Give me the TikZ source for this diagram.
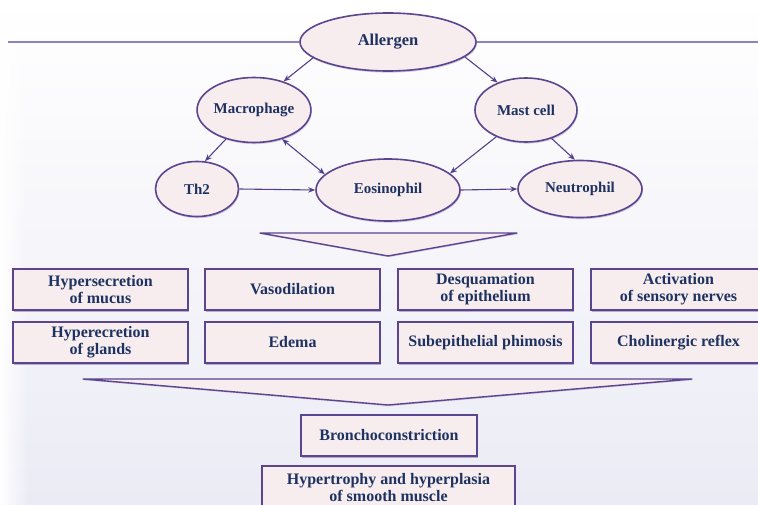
\documentclass[tikz,border=0pt]{standalone}
\usepackage{fontspec}
\setmainfont{Liberation Serif}
\usetikzlibrary{shapes.geometric,arrows.meta,shadows,fadings}
\definecolor{bord}{HTML}{5B4590}
\definecolor{fillc}{HTML}{F7EDEE}
\definecolor{txt}{HTML}{1E3262}
\definecolor{arr}{HTML}{55408A}
\definecolor{bgb}{HTML}{EBEBF5}
\definecolor{hline}{HTML}{8C84BC}
\begin{document}
\begin{tikzpicture}[x=1pt,y=-1pt,
  lbl/.style={text=txt, font=\fontsize{16}{17}\selectfont\bfseries, align=center},
  cell/.style={lbl, font=\fontsize{15}{16}\selectfont\bfseries, ellipse, draw=bord, line width=1.6pt, fill=fillc, inner sep=0pt,
    drop shadow={shadow xshift=0.8pt, shadow yshift=-1.6pt, fill=bord!60, opacity=0.45}},
  effect/.style={lbl, rectangle, draw=bord, line width=1.3pt, fill=fillc, inner sep=0pt,
    minimum width=175, minimum height=41,
    drop shadow={shadow xshift=1.2pt, shadow yshift=-1.6pt, fill=bord!70, opacity=0.6}},
  link/.style={draw=arr, line width=1.1pt, -{Stealth[length=7pt,width=5.5pt]}},
  funnel/.style={draw=bord, line width=1.4pt, fill=fillc, line join=round}
]
\useasboundingbox (0,0) rectangle (758,505);
\clip (0,0) rectangle (758,505);
% background
\shade[top color=white, bottom color=bgb] (0,0) rectangle (758,505);
\fill[white, path fading=east] (0,0) rectangle (28,505);
% horizontal rule
\coordinate (hl) at (8,42);
\coordinate (hr) at (758,42);

% cells
\node[cell, font=\fontsize{16.5}{17}\selectfont\bfseries, minimum width=176, minimum height=58] (allergen) at (388,42) {Allergen};
\node[cell, minimum width=102, minimum height=65] (macro) at (254,110) {Macrophage};
\node[cell, minimum width=102, minimum height=64] (mast) at (526,110) {Mast cell};
\node[cell, minimum width=83, minimum height=55] (th2) at (197,189) {Th2};
\node[cell, minimum width=144, minimum height=62] (eos) at (388,190) {Eosinophil};
\node[cell, minimum width=124, minimum height=57] (neut) at (580,189) {Neutrophil};

\draw[hline, line width=1.6pt] (hl) -- (allergen.west);
\draw[hline, line width=1.6pt] (allergen.east) -- (hr);

% connectors
\draw[link] (allergen.192) -- (macro.44);
\draw[link] (allergen.349) -- (mast.136);
\draw[link] (macro.226) -- (th2.74);
\draw[link, {Stealth[length=7pt,width=5.5pt]}-{Stealth[length=7pt,width=5.5pt]}] (macro.314) -- (eos.166);
\draw[link] (mast.222) -- (eos.15);
\draw[link] (mast.312) -- (neut.100);
\draw[link] (th2.east) -- (eos.west);
\draw[link] (eos.east) -- (neut.west);

% first funnel
\coordinate (f1a) at (260,233);
\coordinate (f1b) at (517,233);
\coordinate (f1c) at (388,256);
\draw[funnel, drop shadow={shadow xshift=0.8pt, shadow yshift=-1.2pt, fill=bord!60, opacity=0.4}] (f1a) -- (f1b) -- (f1c) -- cycle;

% effects
\node[effect] (b1) at (100.5,289.5) {Hypersecretion\\of mucus};
\node[effect] (b2) at (292.5,289.5) {Vasodilation};
\node[effect] (b3) at (485.5,289.5) {Desquamation\\of epithelium};
\node[effect] (b4) at (678.5,289.5) {Activation\\of sensory nerves};
\node[effect] (b5) at (100.5,342.5) {Hyperecretion\\of glands};
\node[effect] (b6) at (292.5,342.5) {Edema};
\node[effect] (b7) at (485.5,342.5) {Subepithelial phimosis};
\node[effect] (b8) at (678.5,342.5) {Cholinergic reflex};

% second funnel
\coordinate (f2a) at (83,379);
\coordinate (f2b) at (692,379);
\coordinate (f2c) at (388,405);
\draw[funnel, drop shadow={shadow xshift=0.8pt, shadow yshift=-1.2pt, fill=bord!60, opacity=0.4}] (f2a) -- (f2b) -- (f2c) -- cycle;

% outcomes
\node[effect, minimum width=176, minimum height=41] (bc) at (389,435.5) {Bronchoconstriction};
\node[effect, minimum width=253, minimum height=44] (hyp) at (388.5,488) {Hypertrophy and hyperplasia\\of smooth muscle};
\end{tikzpicture}
\end{document}
